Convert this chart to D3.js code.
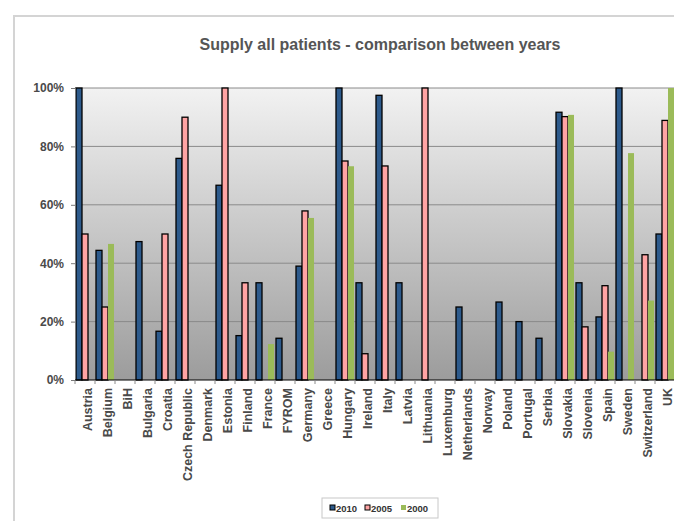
<!DOCTYPE html>
<html>
<head>
<meta charset="utf-8">
<script src="https://cdn.jsdelivr.net/npm/d3@7"></script>
<style>
  body { margin: 0; background: #fff; }
  text { font-family: "Liberation Sans", Arial, sans-serif; }
</style>
</head>
<body>
<svg class="chart-svg"></svg>
<script>
var countries = ['Austria','Belgium','BiH','Bulgaria','Croatia','Czech Republic','Denmark','Estonia','Finland','France',
  'FYROM','Germany','Greece','Hungary','Ireland','Italy','Latvia','Lithuania','Luxemburg','Netherlands',
  'Norway','Poland','Portugal','Serbia','Slovakia','Slovenia','Spain','Sweden','Switzerland','UK'];
var years = ['2010','2005','2000'];
// null = no bar
var vals_2010 = [100,44.4,null,47.4,16.7,75.9,null,66.7,15.2,33.3,
  14.3,39,null,100,33.3,97.5,33.3,null,null,25,
  null,26.7,20,14.3,91.7,33.3,21.6,100,null,50];
var vals_2005 = [50,25,null,null,50,90,null,100,33.3,null,
  null,57.9,null,75,9,73.3,null,100,null,null,
  null,null,null,null,90.2,18.2,32.3,null,42.9,88.9];
var vals_2000 = [null,46.6,null,null,null,null,null,null,null,12.3,
  null,55.5,null,73.2,null,null,null,null,null,null,
  null,null,null,null,90.8,null,9.7,77.7,27.2,100];
var y_ticks = [0,20,40,60,80,100];
var series = [vals_2010, vals_2005, vals_2000];
var colors = ['#2D5A8B','#FFA4A4','#9BBB59'];

var width = 674, height = 521;
var svg = d3.select('.chart-svg').attr('width', width).attr('height', height);

var plot_left = 75, plot_right = 675, plot_top = 88, plot_bottom = 380;

// outer frame
svg.append('rect')
  .attr('x', 14).attr('y', 16).attr('width', 680).attr('height', 520)
  .attr('fill', 'none').attr('stroke', '#d4d4d4').attr('stroke-width', 2);

var defs = svg.append('defs');
var grad = defs.append('linearGradient').attr('id', 'bg').attr('x1', 0).attr('y1', 0).attr('x2', 0).attr('y2', 1);
grad.append('stop').attr('offset', '0%').attr('stop-color', '#F2F2F2');
grad.append('stop').attr('offset', '100%').attr('stop-color', '#9C9C9C');

svg.append('rect')
  .attr('x', plot_left).attr('y', plot_top)
  .attr('width', plot_right - plot_left).attr('height', plot_bottom - plot_top)
  .attr('fill', 'url(#bg)');

var x = d3.scaleBand().domain(countries).range([plot_left, plot_right]).paddingInner(0.1).paddingOuter(0.05);
var x_inner = d3.scaleBand().domain(years).range([0, x.bandwidth()]);
var y = d3.scaleLinear().domain([0, 100]).range([plot_bottom, plot_top]);

// grid
svg.append('g').selectAll('line').data(y_ticks.filter(function(d){ return d > 0; }))
  .enter().append('line')
  .attr('x1', plot_left).attr('x2', plot_right)
  .attr('y1', function(d){ return y(d); }).attr('y2', function(d){ return y(d); })
  .attr('stroke', '#8a8a8a').attr('stroke-width', 1);

// bars
for (var s in series) {
  var curr_vals = series[s];
  var bar_data = countries.map(function(c, i){ return {c: c, v: curr_vals[i]}; })
    .filter(function(d){ return d.v !== null; });
  var ybar = years[s];
  svg.append('g').selectAll('rect').data(bar_data).enter().append('rect')
    .attr('x', function(d){ return x(d.c) + x_inner(ybar); })
    .attr('width', x_inner.bandwidth())
    .attr('y', function(d){ return y(d.v); })
    .attr('height', function(d){ return plot_bottom - y(d.v); })
    .attr('fill', colors[s])
    .attr('stroke', s < 2 ? '#000' : 'none')
    .attr('stroke-width', 1.3);
}

// y axis
var y_axis = svg.append('g').attr('transform', 'translate(' + plot_left + ',0)')
  .call(d3.axisLeft(y).tickValues(y_ticks).tickFormat(function(d){ return d + '%'; }).tickSize(4).tickPadding(7));
y_axis.select('.domain').attr('stroke', '#7a7a7a');
y_axis.selectAll('.tick line').attr('stroke', '#7a7a7a');
y_axis.selectAll('text').attr('font-size', 12).attr('font-weight', 'bold').attr('fill', '#4a4a4a')
  .attr('font-family', '"Liberation Sans", Arial, sans-serif');

// x axis
var x_line = svg.append('g');
x_line.append('line').attr('x1', plot_left).attr('x2', plot_right).attr('y1', plot_bottom).attr('y2', plot_bottom)
  .attr('stroke', '#000').attr('stroke-width', 1);
x_line.selectAll('.xt').data(countries).enter().append('line')
  .attr('x1', function(d){ return x(d) - x.step() * 0.05; })
  .attr('x2', function(d){ return x(d) - x.step() * 0.05; })
  .attr('y1', plot_bottom).attr('y2', plot_bottom + 4)
  .attr('stroke', '#8a8a8a');
x_line.selectAll('.xl').data(countries).enter().append('text')
  .attr('transform', function(d){ return 'translate(' + (x(d) + x.bandwidth() / 2 + 3) + ',' + (plot_bottom + 8) + ') rotate(-90)'; })
  .attr('text-anchor', 'end')
  .attr('dy', '0.35em')
  .attr('font-size', 12.5).attr('font-weight', 'bold').attr('fill', '#4a4a4a')
  .text(function(d){ return d; });

// title
svg.append('text')
  .attr('x', 380).attr('y', 50)
  .attr('text-anchor', 'middle')
  .attr('font-size', 16).attr('font-weight', 'bold').attr('fill', '#555')
  .text('Supply all patients - comparison between years');

// legend
var legend = svg.append('g');
legend.append('rect').attr('x', 322).attr('y', 498).attr('width', 116).attr('height', 20)
  .attr('fill', '#fff').attr('stroke', '#c8c8c8');
var legend_x = [330, 365, 401];
for (var li in years) {
  legend.append('rect').attr('x', legend_x[li]).attr('y', 505).attr('width', 5).attr('height', 5)
    .attr('fill', colors[li]).attr('stroke', li < 2 ? '#000' : 'none').attr('stroke-width', 1);
  legend.append('text').attr('x', legend_x[li] + 6).attr('y', 511.5)
    .attr('font-size', 9.5).attr('font-weight', 'bold').attr('fill', '#333')
    .text(years[li]);
}
</script>
</body>
</html>
